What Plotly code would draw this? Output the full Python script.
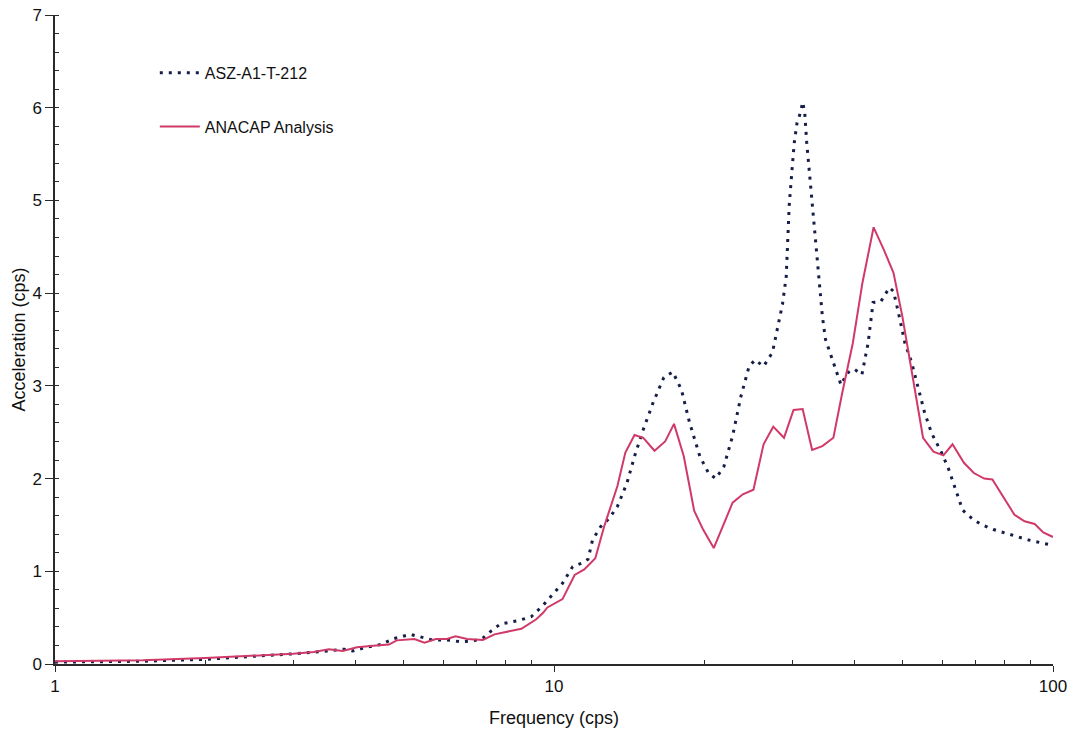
import plotly.graph_objects as go

# ASZ-A1-T-212 (test) series
asz_freq = [1.0, 1.2, 1.5, 2.0, 2.5, 3.0, 3.5, 3.8, 3.95, 4.2, 4.5, 4.75, 5.15, 5.45, 5.7, 6.1, 6.5, 6.9,
            7.2, 7.5, 7.8, 8.5, 9.0, 9.5, 10.0, 10.4, 10.9, 11.4, 11.7, 11.95, 12.4, 12.9, 13.4, 14.0,
            14.5, 15.1, 15.8, 16.6, 17.3, 18.0, 18.7, 19.6, 20.4, 21.1, 21.9, 22.8, 23.7, 24.6, 25.3,
            26.3, 27.4, 28.0, 28.7, 29.2, 29.6, 30.0, 30.3, 30.7, 31.2, 31.5, 31.8, 32.1, 32.6, 33.1,
            34.0, 34.5, 35.0, 36.2, 37.6, 38.7, 40.0, 41.4, 42.6, 43.6, 45.2, 47.0, 47.9, 49.0, 50.5,
            52.1, 53.7, 55.3, 57.1, 59.8, 61.8, 63.9, 65.9, 69.1, 72.1, 76.0, 82.7, 89.0, 96.0, 100.0]
asz_acc = [0.02, 0.025, 0.03, 0.05, 0.08, 0.11, 0.14, 0.16, 0.14, 0.18, 0.21, 0.27, 0.32, 0.29, 0.26, 0.26, 0.24, 0.25,
           0.28, 0.36, 0.43, 0.47, 0.51, 0.63, 0.77, 0.87, 1.05, 1.09, 1.13, 1.34, 1.48, 1.57, 1.70, 1.95,
           2.24, 2.53, 2.82, 3.09, 3.15, 2.96, 2.60, 2.24, 2.06, 2.00, 2.13, 2.46, 2.89, 3.21, 3.28,
           3.21, 3.36, 3.61, 3.88, 4.18, 4.94, 5.34, 5.62, 5.84, 5.95, 6.06, 5.95, 5.62, 5.23, 4.80,
           4.11, 3.75, 3.50, 3.28, 3.01, 3.14, 3.18, 3.12, 3.46, 3.90, 3.91, 4.06, 4.02, 3.79, 3.46,
           3.25, 2.96, 2.71, 2.49, 2.28, 2.10, 1.88, 1.66, 1.56, 1.50, 1.45, 1.39, 1.34, 1.30, 1.28]

# ANACAP Analysis series
ana_freq = [1.0, 1.5, 2.0, 2.5, 3.0, 3.3, 3.54, 3.77, 4.03, 4.4, 4.67, 4.84, 5.25, 5.5, 5.8, 6.1, 6.35, 6.7,
            7.2, 7.6, 8.05, 8.6, 9.2, 9.5, 9.7, 10.4, 11.0, 11.5, 12.1, 12.6, 13.4, 13.9, 14.5, 15.1,
            15.9, 16.7, 17.4, 18.2, 19.1, 19.9, 20.9, 21.8, 22.8, 23.9, 25.1, 26.3, 27.5, 28.9, 30.2,
            31.5, 32.9, 34.5, 36.3, 37.8, 39.7, 41.5, 43.7, 45.8, 47.9, 49.9, 52.2, 54.9, 57.6, 60.3,
            62.9, 66.3, 69.4, 72.8, 75.6, 79.2, 83.7, 87.7, 91.9, 95.6, 100.0]
ana_acc = [0.03, 0.04, 0.064, 0.085, 0.11, 0.13, 0.16, 0.14, 0.18, 0.20, 0.21, 0.255, 0.27, 0.23, 0.27, 0.27, 0.30, 0.27,
           0.26, 0.32, 0.35, 0.38, 0.48, 0.55, 0.61, 0.70, 0.96, 1.02, 1.14, 1.48, 1.92, 2.28, 2.47, 2.44,
           2.30, 2.40, 2.59, 2.24, 1.65, 1.45, 1.25, 1.48, 1.74, 1.83, 1.88, 2.37, 2.56, 2.44, 2.74,
           2.75, 2.31, 2.35, 2.44, 2.92, 3.46, 4.11, 4.71, 4.47, 4.22, 3.75, 3.14, 2.44, 2.29, 2.25,
           2.37, 2.17, 2.06, 2.00, 1.99, 1.81, 1.61, 1.54, 1.51, 1.42, 1.37]

x_major = [1, 10, 100]
x_minor = [2, 3, 4, 5, 6, 7, 8, 9, 20, 30, 40, 50, 60, 70, 80, 90]

FONT = "Liberation Sans, Arial, sans-serif"
NAVY = "#161d47"
RED = "#d03a68"
AXIS = "#2a2a2a"
TXT = "#111111"

fig = go.Figure()
fig.add_trace(go.Scatter(x=asz_freq, y=asz_acc, mode="lines", name="ASZ-A1-T-212",
                         legendgroup="a",
                         line=dict(color=NAVY, width=3, dash="3px,6px")))
fig.add_trace(go.Scatter(x=ana_freq, y=ana_acc, mode="lines", name="ANACAP Analysis",
                         legendgroup="b",
                         line=dict(color=RED, width=2)))

fig.update_layout(
    width=1072, height=734,
    margin=dict(l=55, r=19, t=15, b=70, autoexpand=False),
    paper_bgcolor="white", plot_bgcolor="white",
    font=dict(family=FONT, size=16, color=TXT),
    showlegend=True,
    legend=dict(x=0.1, y=0.937, xanchor="left", yanchor="top",
                bgcolor="rgba(0,0,0,0)", font=dict(size=16, family=FONT, color=TXT),
                tracegroupgap=30, itemwidth=40),
    xaxis=dict(type="log", range=[0, 2], tickvals=x_major, ticktext=[str(v) for v in x_major],
               automargin=False,
               showgrid=False, zeroline=False, showline=True, linecolor=AXIS, linewidth=1.5,
               ticks="outside", ticklen=6, tickcolor=AXIS,
               minor=dict(tickvals=x_minor, ticks="inside", ticklen=4, tickcolor=AXIS, showgrid=False),
               title=dict(text="Frequency (cps)", font=dict(size=18, family=FONT, color=TXT), standoff=16),
               tickfont=dict(size=17, family=FONT, color=TXT)),
    yaxis=dict(range=[0, 7], dtick=1, showgrid=False, zeroline=False, showline=True,
               automargin=False,
               linecolor=AXIS, linewidth=1.5, ticks="outside", ticklen=8, tickcolor=AXIS,
               minor=dict(dtick=0.2, ticks="inside", ticklen=4, tickcolor=AXIS, showgrid=False),
               title=dict(text="Acceleration (cps)", font=dict(size=18, family=FONT, color=TXT), standoff=2),
               tickfont=dict(size=17, family=FONT, color=TXT)),
)

fig.write_html("out.html", config={"displayModeBar": False},
               post_script="document.body.style.margin='0';document.body.style.overflow='hidden';")
